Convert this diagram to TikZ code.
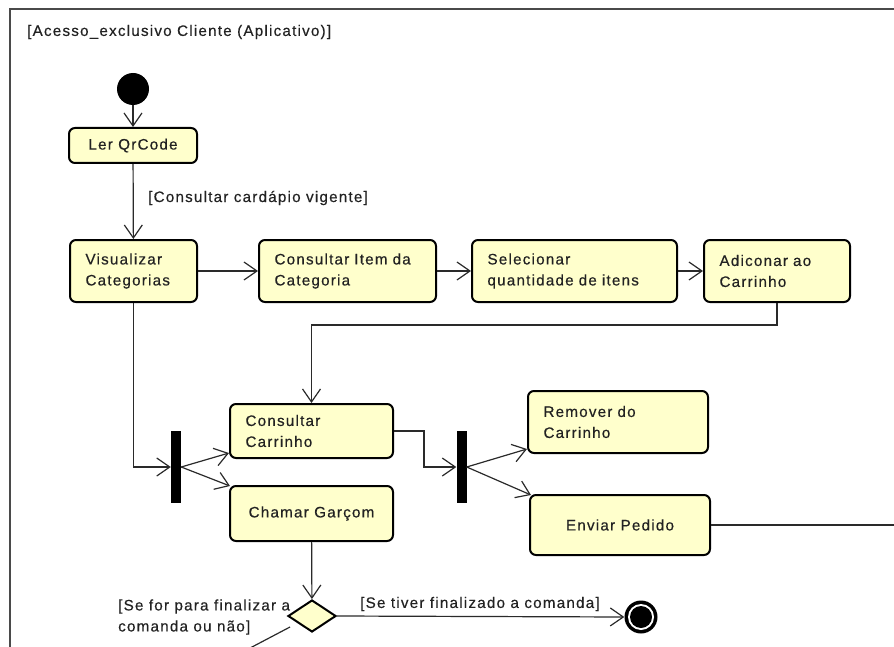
\documentclass[tikz,border=0pt]{standalone}
\usepackage{fontspec}
\usetikzlibrary{arrows.meta,shapes.geometric}
\newfontfamily\diafont{Liberation Sans}[LetterSpace=8,FakeBold=0.4]
\definecolor{actfill}{HTML}{FFFFCC}
\definecolor{ink}{HTML}{222222}
\definecolor{wire}{HTML}{2A2A2A}
\definecolor{framec}{HTML}{4A4A4A}
\begin{document}
\begin{tikzpicture}[x=1pt,y=-1pt,
  every node/.style={font=\diafont\fontsize{15.2}{21}\selectfont, text=ink},
  act/.style={draw=black, line width=2pt, rounded corners=6pt, fill=actfill,
    inner xsep=15.5pt, inner ysep=0pt, align=left},
  actc/.style={act, align=center},
  bar/.style={fill=black, draw=none, inner sep=0pt, minimum width=10pt, minimum height=72pt},
  flow/.style={draw=wire, line width=1.2pt, -{Straight Barb[length=13pt,width=18pt,line width=1.2pt]}},
  plain/.style={draw=wire, line width=1.2pt},
  guard/.style={inner sep=0pt, align=left}
]
\useasboundingbox (0,0) rectangle (894,647);
\clip (0,0) rectangle (894,647);

% frame of the activity partition
\draw[framec, line width=2pt] (10,900) -- (10,9) -- (1000,9);
\node[guard, anchor=west] (title) at (27,32) {[Acesso\_exclusivo Cliente (Aplicativo)]};

% initial node
\node[circle, fill=black, minimum size=32pt, inner sep=0pt] (start) at (133,89) {};

% actions
\node[actc, minimum width=128pt, minimum height=35pt] (ler) at (133,145.5) {Ler QrCode};
\node[act, text width=96pt, minimum height=62pt] (vis) at (133.5,271) {Visualizar\\Categorias};
\node[act, text width=146pt, minimum height=62pt] (item) at (347.5,271) {Consultar Item da\\Categoria};
\node[act, text width=174pt, minimum height=62pt] (sel) at (574.5,271) {Selecionar\\quantidade de itens};
\node[act, text width=115pt, minimum height=62pt] (adic) at (777,271) {Adiconar ao\\Carrinho};
\node[act, text width=132pt, minimum height=54pt] (cart) at (311.5,431) {Consultar\\Carrinho};
\node[actc, minimum width=163pt, minimum height=55pt] (cham) at (311.5,513.5) {Chamar Garçom};
\node[act, text width=149pt, minimum height=62pt] (rem) at (618,422) {Remover do\\Carrinho};
\node[actc, minimum width=180pt, minimum height=60pt] (env) at (620,525) {Enviar Pedido};

% fork bars
\node[bar] (f1) at (176,467) {};
\node[bar] (f2) at (461.5,467) {};

% decision and final node
\node[diamond, draw=black, line width=2pt, fill=actfill, inner sep=0pt,
  minimum width=48pt, minimum height=32pt] (dec) at (312,616) {};
\node[circle, fill=black, minimum size=33pt, inner sep=0pt,
  path picture={\fill[white] (path picture bounding box.center) circle (13pt);
                \fill[black] (path picture bounding box.center) circle (11pt);}] (fin) at (641,617) {};

% free ends leaving the visible area
\coordinate (envout) at (950,525);
\coordinate (decout0) at (290,627);
\coordinate (decout) at (176,687);

% control flows
\draw[flow] (start) -- (ler);
\draw[flow] (ler) -- (vis);
\node[guard, anchor=west] (g1) at (148,198) {[Consultar cardápio vigente]};
\draw[flow] (vis) -- (item);
\draw[flow] (item) -- (sel);
\draw[flow] (sel) -- (adic);
\draw[flow] (adic.south) -- ++(0,22) -| (cart.north);
\draw[flow] (vis.south) |- (f1.west);
\draw[flow] (f1.east) -- ([yshift=6pt]cart.south west);
\draw[flow] (f1.east) -- ([xshift=1pt,yshift=-1pt]cham.north west);
\draw[flow] (cart.east) -- ++(30,0) |- (f2.west);
\draw[flow] (f2.east) -- ([yshift=5pt]rem.south west);
\draw[flow] (f2.east) -- ([xshift=2pt,yshift=-1pt]env.north west);
\draw[plain] (env.east) -- (envout);
\draw[flow] (cham) -- (dec);
\draw[flow] (dec.east) -- (fin.west);
\node[guard, anchor=west] (g2) at (360,604) {[Se tiver finalizado a comanda]};
\node[guard, anchor=west] (g3) at (118,617) {[Se for para finalizar a\\comanda ou não]};
\draw[plain] (decout0) -- (decout);
\end{tikzpicture}
\end{document}
